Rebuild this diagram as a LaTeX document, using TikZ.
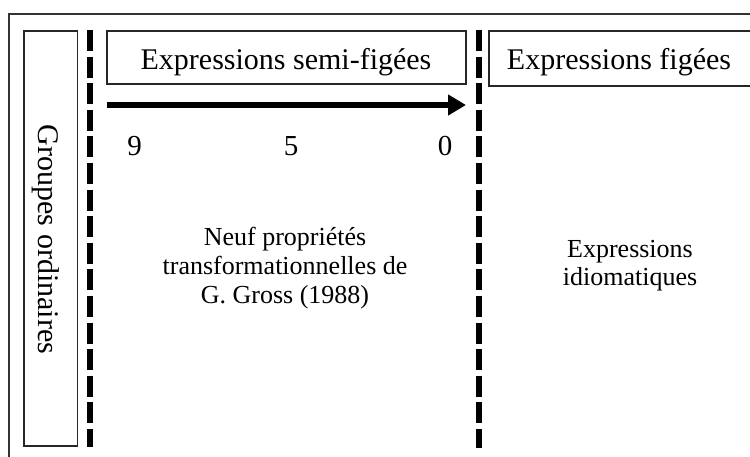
\documentclass[tikz,border=0pt]{standalone}
\usepackage{fontspec}
\setmainfont{Liberation Serif}
\usetikzlibrary{arrows.meta}
\tikzset{
  frame/.style={draw=black!80, line width=1.4pt},
  box/.style={draw=black!85, line width=1.4pt},
  divider/.style={line width=6pt, dash pattern=on 21pt off 5.6pt},
  head/.style={anchor=base, inner sep=0pt, font=\fontsize{30}{34}\selectfont},
  num/.style={anchor=base, inner sep=0pt, font=\fontsize{29}{32}\selectfont},
  body/.style={anchor=base, inner sep=0pt, font=\fontsize{26}{29.5}\selectfont},
  scalearrow/.style={line width=6pt, -{Triangle[length=18pt,width=20pt]}}
}
\begin{document}
\begin{tikzpicture}[x=1pt,y=-1pt]
\useasboundingbox (0,0) rectangle (750,457);
\fill[white] (0,0) rectangle (750,457);
% outer frame (cropped on the right and bottom)
\draw[frame] (9,14) rectangle (770,480);
% left box
\draw[box] (24,31) rectangle (77.5,446);
\node[head, rotate=-90] (groupes) at (38,239.5) {Groupes ordinaires};
% header boxes
\draw[box] (107,31) rectangle (466,84);
\node[head] (semi) at (286,70) {Expressions semi-figées};
\draw[box] (489,31) rectangle (775,86);
\node[head] (figees) at (619,69.5) {Expressions figées};
% dividers
\coordinate (d1a) at (90,30);
\coordinate (d1b) at (90,447);
\coordinate (d2a) at (479,30);
\coordinate (d2b) at (479,448);
\draw[divider] (d1a) -- (d1b);
\draw[divider] (d2a) -- (d2b);
% scale arrow
\coordinate (s0) at (107,105);
\coordinate (s1) at (466,105);
\draw[scalearrow] (s0) -- (s1);
\node[num] (n9) at (134.5,156) {9};
\node[num] (n5) at (291,156) {5};
\node[num] (n0) at (445,156) {0};
% texts
\node[body] (t1) at (285,245.5) {Neuf propriétés};
\node[body] (t2) at (285,274.5) {transformationnelles de};
\node[body] (t3) at (285,303) {G. Gross (1988)};
\node[body] (i1) at (630,258) {Expressions};
\node[body] (i2) at (630,285.5) {idiomatiques};
\end{tikzpicture}
\end{document}
